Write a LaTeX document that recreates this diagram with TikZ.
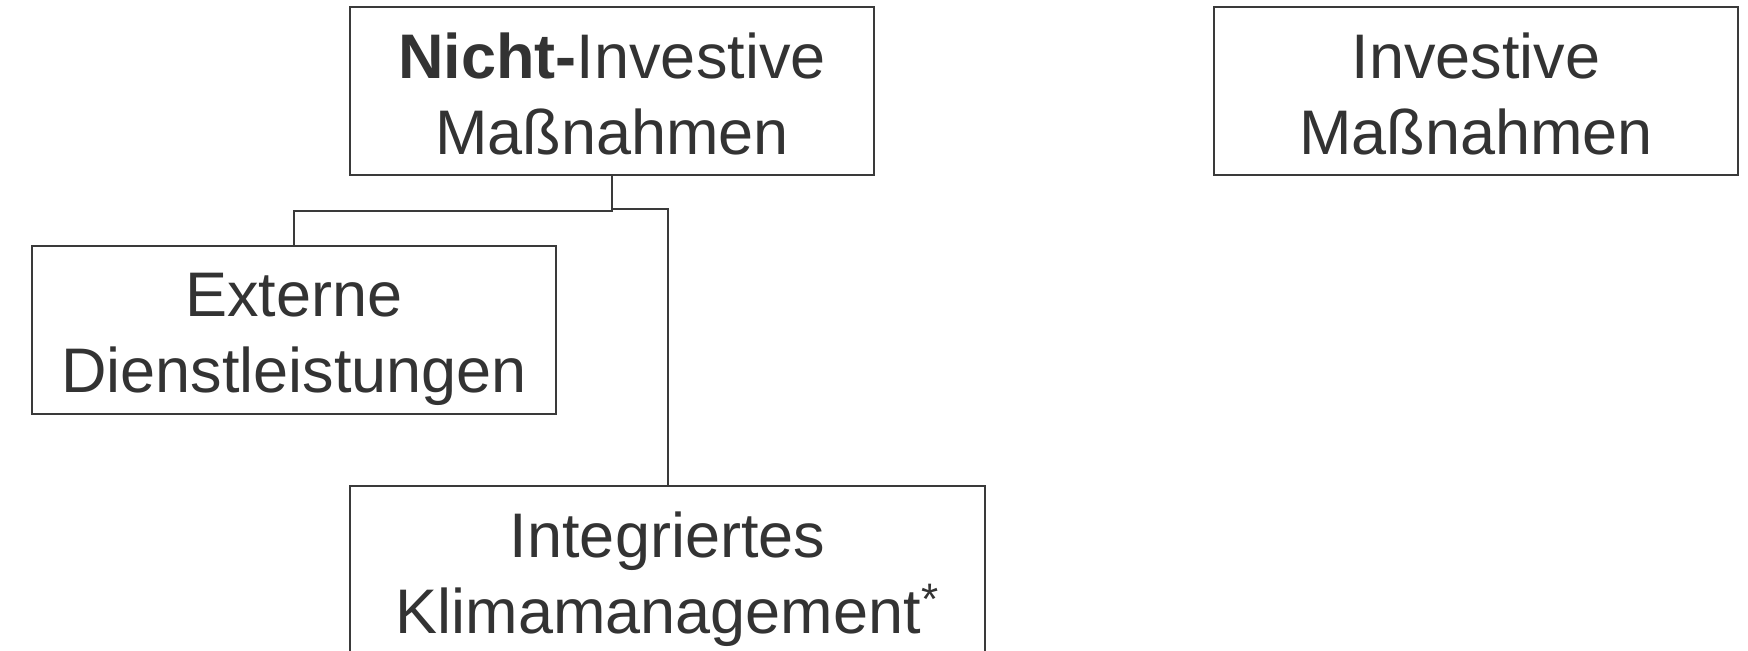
\documentclass[tikz,border=0pt]{standalone}
\usepackage{fontspec}
\setmainfont{Liberation Sans}
\definecolor{txt}{HTML}{333333}
\definecolor{ln}{HTML}{3A3A3A}
\newcommand{\topstrut}{\rule{0pt}{31.6pt}}
\newcommand{\botstrut}{\rule[-6.6pt]{0pt}{0pt}}
\tikzset{
  box/.style={draw=ln, line width=1pt, minimum width=#1, minimum height=84pt, inner sep=0pt,
    align=center, text=txt, font=\fontsize{31.5}{38}\selectfont},
  conn/.style={draw=ln, line width=1pt}
}
\begin{document}
\begin{tikzpicture}[x=0.5pt,y=-0.5pt]
\useasboundingbox (0,0) rectangle (1748,650);
\node[box=262pt] (nicht) at (612,91) {\topstrut\textbf{Nicht-}Investive\\Maßnahmen\botstrut};
\node[box=262pt] (inv) at (1476,91) {\topstrut Investive\\Maßnahmen\botstrut};
\node[box=262pt] (ext) at (294,329.5) {\topstrut Externe\\Dienstleistungen\botstrut};
\node[box=317.5pt] (ikm) at (667.5,570) {\topstrut Integriertes\\Klimamanagement\textsuperscript{*}\botstrut};
\coordinate (j1) at (612,211);
\coordinate (j2) at (612,209);
\draw[conn] (nicht.south) -- (j1) -| (ext.north);
\draw[conn] (j2) -| (ikm.north);
\end{tikzpicture}
\end{document}
